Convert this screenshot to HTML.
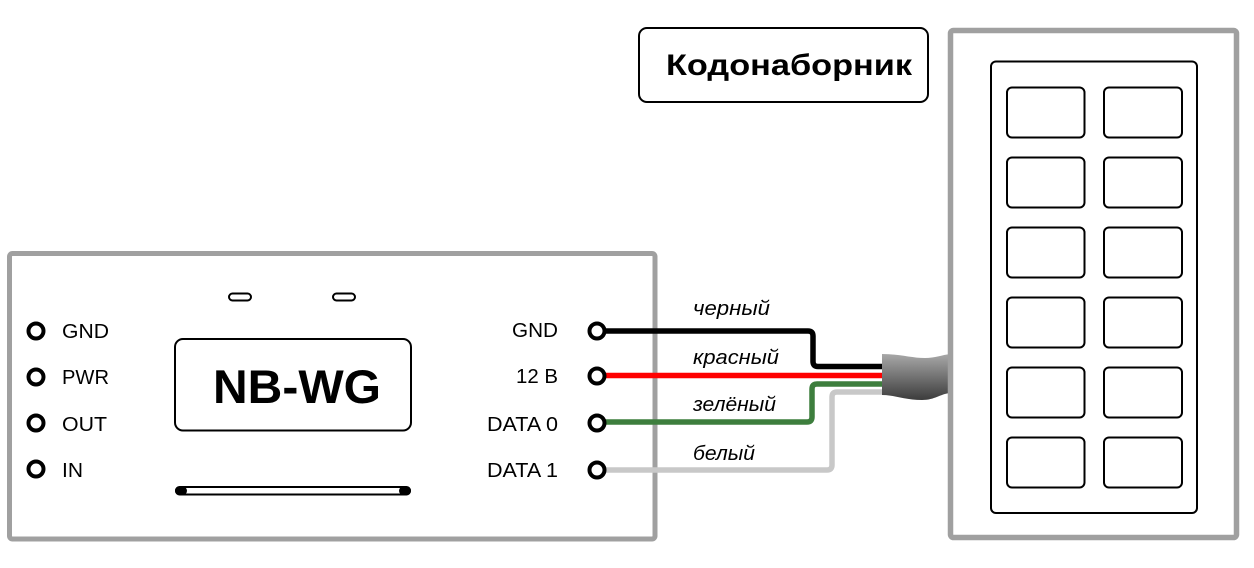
<!DOCTYPE html>
<html><head><meta charset="utf-8"><style>
html,body{margin:0;padding:0;background:#fff;}
svg{display:block;}
text{font-family:"Liberation Sans","DejaVu Sans",sans-serif;}
</style></head><body>
<svg width="1254" height="568" viewBox="0 0 1254 568" xmlns="http://www.w3.org/2000/svg">
<defs>
<linearGradient id="sg" x1="0" y1="0" x2="0" y2="1">
<stop offset="0" stop-color="#a8a8a8"/>
<stop offset="1" stop-color="#3c3c3c"/>
</linearGradient>
</defs>
<rect width="1254" height="568" fill="#fff"/>

<!-- Left device -->
<rect x="9.5" y="253.5" width="645.5" height="285.5" rx="3" fill="#fff" stroke="#a0a0a0" stroke-width="5"/>

<g fill="none" stroke="#000" stroke-width="4">
<circle cx="36" cy="331" r="7.5"/>
<circle cx="36" cy="377" r="7.5"/>
<circle cx="36" cy="423" r="7.5"/>
<circle cx="36" cy="469" r="7.5"/>
</g>
<g font-size="20" fill="#000">
<text x="62" y="338" textLength="47" lengthAdjust="spacingAndGlyphs">GND</text>
<text x="62" y="384" textLength="47" lengthAdjust="spacingAndGlyphs">PWR</text>
<text x="62" y="431" textLength="45" lengthAdjust="spacingAndGlyphs">OUT</text>
<text x="62" y="477" textLength="21" lengthAdjust="spacingAndGlyphs">IN</text>
<text x="512" y="337" textLength="46" lengthAdjust="spacingAndGlyphs">GND</text>
<text x="516" y="383" textLength="42" lengthAdjust="spacingAndGlyphs">12 В</text>
<text x="487" y="431" textLength="71" lengthAdjust="spacingAndGlyphs">DATA 0</text>
<text x="487" y="477" textLength="71" lengthAdjust="spacingAndGlyphs">DATA 1</text>
</g>

<rect x="229" y="293.5" width="22" height="7" rx="3.5" fill="#fff" stroke="#000" stroke-width="2"/>
<rect x="333" y="293.5" width="22" height="7" rx="3.5" fill="#fff" stroke="#000" stroke-width="2"/>

<rect x="175" y="339" width="236" height="91.5" rx="8" fill="#fff" stroke="#000" stroke-width="2"/>
<text x="213" y="403" font-size="47" font-weight="bold" textLength="168" lengthAdjust="spacingAndGlyphs">NB-WG</text>

<rect x="176" y="487" width="234" height="7.5" rx="3.5" fill="#fff" stroke="#000" stroke-width="2"/>
<rect x="175" y="486.5" width="12" height="8.5" rx="4.25" fill="#000"/>
<rect x="399" y="486.5" width="12" height="8.5" rx="4.25" fill="#000"/>

<!-- Wires -->
<g fill="none" stroke-width="5.5" stroke-linejoin="round">
<path d="M597 331 H808 Q813 331 813 336 V361.5 Q813 366.5 818 366.5 H884" stroke="#000"/>
<path d="M597 375.5 H884" stroke="#ff0000"/>
<path d="M597 422 H807 Q812 422 812 417 V389 Q812 384 817 384 H884" stroke="#3d7e3d"/>
<path d="M597 470 H827 Q832 470 832 465 V397 Q832 392 837 392 H884" stroke="#c8c8c8"/>
</g>
<g fill="#fff" stroke="#000" stroke-width="4">
<circle cx="597" cy="331" r="7.5"/>
<circle cx="597" cy="376" r="7.5"/>
<circle cx="597" cy="423" r="7.5"/>
<circle cx="597" cy="470" r="7.5"/>
</g>

<!-- Sleeve -->
<path d="M882 354 C900 354 912 358 925 358 C935 358 942 355 950 354 L950 393 C940 394 935 400 922 400 C905 400 895 395 882 395 Z" fill="url(#sg)"/>

<!-- Wire labels -->
<g font-size="20" font-style="italic" fill="#000">
<text x="693" y="315" textLength="77" lengthAdjust="spacingAndGlyphs">черный</text>
<text x="693" y="364" textLength="86" lengthAdjust="spacingAndGlyphs">красный</text>
<text x="693" y="411" textLength="83" lengthAdjust="spacingAndGlyphs">зелёный</text>
<text x="693" y="460" textLength="62" lengthAdjust="spacingAndGlyphs">белый</text>
</g>

<!-- Title box -->
<rect x="639" y="28" width="289" height="74" rx="8" fill="#fff" stroke="#000" stroke-width="2"/>
<text x="666" y="75" font-size="30" font-weight="bold" textLength="246" lengthAdjust="spacingAndGlyphs">Кодонаборник</text>

<!-- Keypad -->
<rect x="950.5" y="30.5" width="286" height="507" rx="3" fill="none" stroke="#a0a0a0" stroke-width="5.5"/>
<rect x="991" y="61.5" width="206" height="451.5" rx="5" fill="#fff" stroke="#000" stroke-width="2"/>
<g fill="#fff" stroke="#000" stroke-width="2">
<rect x="1007" y="87.5" width="77.5" height="50" rx="5"/>
<rect x="1104" y="87.5" width="78" height="50" rx="5"/>
<rect x="1007" y="157.5" width="77.5" height="50" rx="5"/>
<rect x="1104" y="157.5" width="78" height="50" rx="5"/>
<rect x="1007" y="227.5" width="77.5" height="50" rx="5"/>
<rect x="1104" y="227.5" width="78" height="50" rx="5"/>
<rect x="1007" y="297.5" width="77.5" height="50" rx="5"/>
<rect x="1104" y="297.5" width="78" height="50" rx="5"/>
<rect x="1007" y="367.5" width="77.5" height="50" rx="5"/>
<rect x="1104" y="367.5" width="78" height="50" rx="5"/>
<rect x="1007" y="437.5" width="77.5" height="50" rx="5"/>
<rect x="1104" y="437.5" width="78" height="50" rx="5"/>
</g>
</svg>
</body></html>
